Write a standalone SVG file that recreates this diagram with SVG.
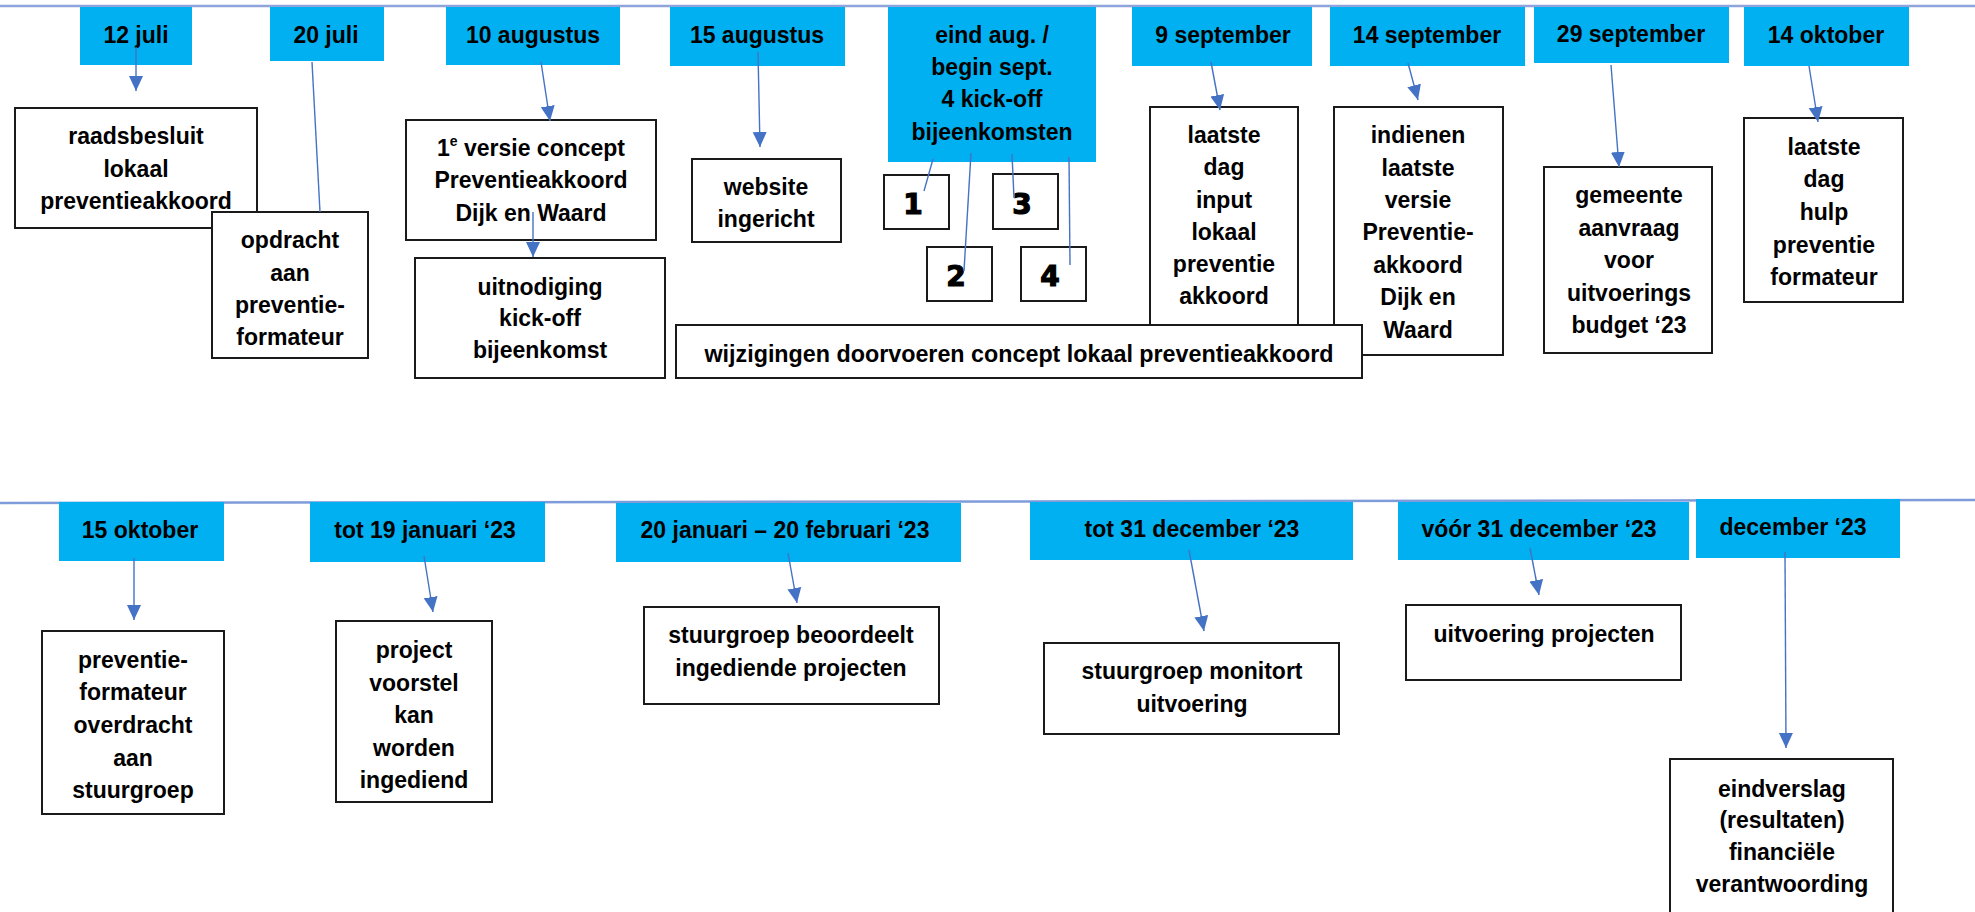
<svg xmlns="http://www.w3.org/2000/svg" width="1975" height="912" viewBox="0 0 1975 912">
<defs>
<style>
.date{fill:#00B0F0;}
.box{fill:#fff;stroke:#1a1a1a;stroke-width:2;}
.t{font-family:"Liberation Sans",Arial,sans-serif;font-weight:bold;font-size:23px;fill:#000;text-anchor:middle;}
.dg{font-family:"DejaVu Sans","Liberation Sans",sans-serif;font-weight:bold;font-size:28px;fill:#000;stroke:#000;stroke-width:1.2;text-anchor:middle;}
.axis{stroke:#8FA3DC;stroke-width:2.5;fill:none;}
.c{stroke:#4472C4;stroke-width:1.4;fill:none;}
.a{stroke:#4472C4;stroke-width:1.4;fill:none;marker-end:url(#ah);}
</style>
<marker id="ah" markerUnits="userSpaceOnUse" markerWidth="16" markerHeight="16" viewBox="0 0 16 16" refX="15" refY="8" orient="auto">
<path d="M0,1 L15,8 L0,15 Z" fill="#4472C4"/>
</marker>
</defs>
<rect width="1975" height="912" fill="#fff"/>

<g id="timeline">
<line class="axis" x1="0" y1="6" x2="1975" y2="6"/>
<line class="axis" x1="0" y1="503" x2="1975" y2="500" style="stroke:#7F9CDA"/>
</g>

<g id="d-12juli"><rect class="date" x="80" y="7" width="112" height="58"/><text class="t" x="136" y="43">12 juli</text></g>
<g id="d-20juli"><rect class="date" x="270" y="7" width="114" height="54"/><text class="t" x="326" y="43">20 juli</text></g>
<g id="d-10aug"><rect class="date" x="446" y="7" width="174" height="58"/><text class="t" x="533" y="43">10 augustus</text></g>
<g id="d-15aug"><rect class="date" x="670" y="7" width="175" height="59"/><text class="t" x="757" y="43">15 augustus</text></g>
<g id="d-eindaug"><rect class="date" x="888" y="7" width="208" height="155"/><text class="t" x="992" y="43">eind aug. /<tspan x="992" dy="32">begin sept.</tspan><tspan x="992" dy="32">4 kick-off</tspan><tspan x="992" dy="33">bijeenkomsten</tspan></text></g>
<g id="d-9sep"><rect class="date" x="1132" y="7" width="180" height="59"/><text class="t" x="1223" y="43">9 september</text></g>
<g id="d-14sep"><rect class="date" x="1330" y="7" width="195" height="59"/><text class="t" x="1427" y="43">14 september</text></g>
<g id="d-29sep"><rect class="date" x="1534" y="7" width="195" height="56"/><text class="t" x="1631" y="42">29 september</text></g>
<g id="d-14okt"><rect class="date" x="1744" y="7" width="165" height="59"/><text class="t" x="1826" y="43">14 oktober</text></g>

<g id="n-raadsbesluit"><rect class="box" x="15" y="108" width="242" height="120"/><text class="t" x="136" y="144">raadsbesluit<tspan x="136" dy="33">lokaal</tspan><tspan x="136" dy="32">preventieakkoord</tspan></text></g>
<g id="n-opdracht"><rect class="box" x="212" y="212" width="156" height="146"/><text class="t" x="290" y="248">opdracht<tspan x="290" dy="33">aan</tspan><tspan x="290" dy="32">preventie-</tspan><tspan x="290" dy="32">formateur</tspan></text></g>
<g id="n-versie"><rect class="box" x="406" y="120" width="250" height="120"/><text class="t" x="531" y="156">1<tspan font-size="14" dy="-10">e</tspan><tspan dy="10"> versie concept</tspan><tspan x="531" dy="32">Preventieakkoord</tspan><tspan x="531" dy="33">Dijk en Waard</tspan></text></g>
<g id="n-uitnodiging"><rect class="box" x="415" y="258" width="250" height="120"/><text class="t" x="540" y="295">uitnodiging<tspan x="540" dy="31">kick-off</tspan><tspan x="540" dy="32">bijeenkomst</tspan></text></g>
<g id="n-website"><rect class="box" x="692" y="159" width="149" height="83"/><text class="t" x="766" y="195">website<tspan x="766" dy="32">ingericht</tspan></text></g>
<g id="n-k1"><rect class="box" x="884" y="175" width="65" height="54"/><text class="dg" x="913" y="214">1</text></g>
<g id="n-k2"><rect class="box" x="927" y="247" width="65" height="54"/><text class="dg" x="956" y="286">2</text></g>
<g id="n-k3"><rect class="box" x="993" y="174" width="65" height="55"/><text class="dg" x="1022" y="214">3</text></g>
<g id="n-k4"><rect class="box" x="1021" y="247" width="65" height="54"/><text class="dg" x="1050" y="286">4</text></g>
<g id="n-input"><rect class="box" x="1150" y="107" width="148" height="228"/><text class="t" x="1224" y="143">laatste<tspan x="1224" dy="32">dag</tspan><tspan x="1224" dy="33">input</tspan><tspan x="1224" dy="32">lokaal</tspan><tspan x="1224" dy="32">preventie</tspan><tspan x="1224" dy="32">akkoord</tspan></text></g>
<g id="n-indienen"><rect class="box" x="1334" y="107" width="169" height="248"/><text class="t" x="1418" y="143">indienen<tspan x="1418" dy="33">laatste</tspan><tspan x="1418" dy="32">versie</tspan><tspan x="1418" dy="32">Preventie-</tspan><tspan x="1418" dy="33">akkoord</tspan><tspan x="1418" dy="32">Dijk en</tspan><tspan x="1418" dy="33">Waard</tspan></text></g>
<g id="n-wijzigingen"><rect class="box" x="676" y="325" width="686" height="53"/><text class="t" x="1019" y="362" textLength="629" lengthAdjust="spacingAndGlyphs">wijzigingen doorvoeren concept lokaal preventieakkoord</text></g>
<g id="n-gemeente"><rect class="box" x="1544" y="167" width="168" height="186"/><text class="t" x="1629" y="203">gemeente<tspan x="1629" dy="33">aanvraag</tspan><tspan x="1629" dy="32">voor</tspan><tspan x="1629" dy="33">uitvoerings</tspan><tspan x="1629" dy="32">budget ‘23</tspan></text></g>
<g id="n-hulp"><rect class="box" x="1744" y="118" width="159" height="184"/><text class="t" x="1824" y="155">laatste<tspan x="1824" dy="32">dag</tspan><tspan x="1824" dy="33">hulp</tspan><tspan x="1824" dy="33">preventie</tspan><tspan x="1824" dy="32">formateur</tspan></text></g>

<g id="d-15okt"><rect class="date" x="59" y="502" width="165" height="59"/><text class="t" x="140" y="538">15 oktober</text></g>
<g id="d-tot19jan"><rect class="date" x="310" y="502" width="235" height="60"/><text class="t" x="425" y="538">tot 19 januari ‘23</text></g>
<g id="d-20jan"><rect class="date" x="616" y="503" width="345" height="59"/><text class="t" x="785" y="538">20 januari – 20 februari ‘23</text></g>
<g id="d-tot31dec"><rect class="date" x="1030" y="502" width="323" height="58"/><text class="t" x="1192" y="537">tot 31 december ‘23</text></g>
<g id="d-voor31dec"><rect class="date" x="1398" y="502" width="291" height="58"/><text class="t" x="1539" y="537">vóór 31 december ‘23</text></g>
<g id="d-dec23"><rect class="date" x="1696" y="499" width="204" height="59"/><text class="t" x="1793" y="535">december ‘23</text></g>

<g id="n-overdracht"><rect class="box" x="42" y="631" width="182" height="183"/><text class="t" x="133" y="668">preventie-<tspan x="133" dy="32">formateur</tspan><tspan x="133" dy="33">overdracht</tspan><tspan x="133" dy="33">aan</tspan><tspan x="133" dy="32">stuurgroep</tspan></text></g>
<g id="n-project"><rect class="box" x="336" y="621" width="156" height="181"/><text class="t" x="414" y="658">project<tspan x="414" dy="33">voorstel</tspan><tspan x="414" dy="32">kan</tspan><tspan x="414" dy="33">worden</tspan><tspan x="414" dy="32">ingediend</tspan></text></g>
<g id="n-beoordeelt"><rect class="box" x="644" y="607" width="295" height="97"/><text class="t" x="791" y="643">stuurgroep beoordeelt<tspan x="791" dy="33">ingediende projecten</tspan></text></g>
<g id="n-monitort"><rect class="box" x="1044" y="643" width="295" height="91"/><text class="t" x="1192" y="679">stuurgroep monitort<tspan x="1192" dy="33">uitvoering</tspan></text></g>
<g id="n-uitvoering"><rect class="box" x="1406" y="605" width="275" height="75"/><text class="t" x="1544" y="642">uitvoering projecten</text></g>
<g id="n-eindverslag"><rect class="box" x="1670" y="759" width="223" height="170"/><text class="t" x="1782" y="797">eindverslag<tspan x="1782" dy="31">(resultaten)</tspan><tspan x="1782" dy="32">financiële</tspan><tspan x="1782" dy="32">verantwoording</tspan></text></g>

<g id="connectors">
<line class="a" x1="136" y1="47" x2="136" y2="91"/>
<line class="c" x1="312" y1="62" x2="320" y2="212"/>
<line class="a" x1="541" y1="62" x2="550" y2="121"/>
<line class="a" x1="533" y1="212" x2="533" y2="257"/>
<line class="a" x1="758" y1="52" x2="760" y2="147"/>
<line class="c" x1="933" y1="159" x2="924" y2="191"/>
<line class="c" x1="971" y1="153" x2="964" y2="271"/>
<line class="c" x1="1012" y1="154" x2="1014" y2="198"/>
<line class="c" x1="1069" y1="157" x2="1070" y2="265"/>
<line class="a" x1="1211" y1="62" x2="1220" y2="110"/>
<line class="a" x1="1408" y1="63" x2="1418" y2="100"/>
<line class="a" x1="1611" y1="65" x2="1619" y2="167"/>
<line class="a" x1="1809" y1="66" x2="1818" y2="122"/>
<line class="a" x1="134" y1="558" x2="134" y2="620"/>
<line class="a" x1="424" y1="556" x2="433" y2="612"/>
<line class="a" x1="788" y1="553" x2="797" y2="603"/>
<line class="a" x1="1189" y1="550" x2="1204" y2="631"/>
<line class="a" x1="1530" y1="548" x2="1539" y2="595"/>
<line class="a" x1="1785" y1="552" x2="1786" y2="748"/>
</g>
</svg>
